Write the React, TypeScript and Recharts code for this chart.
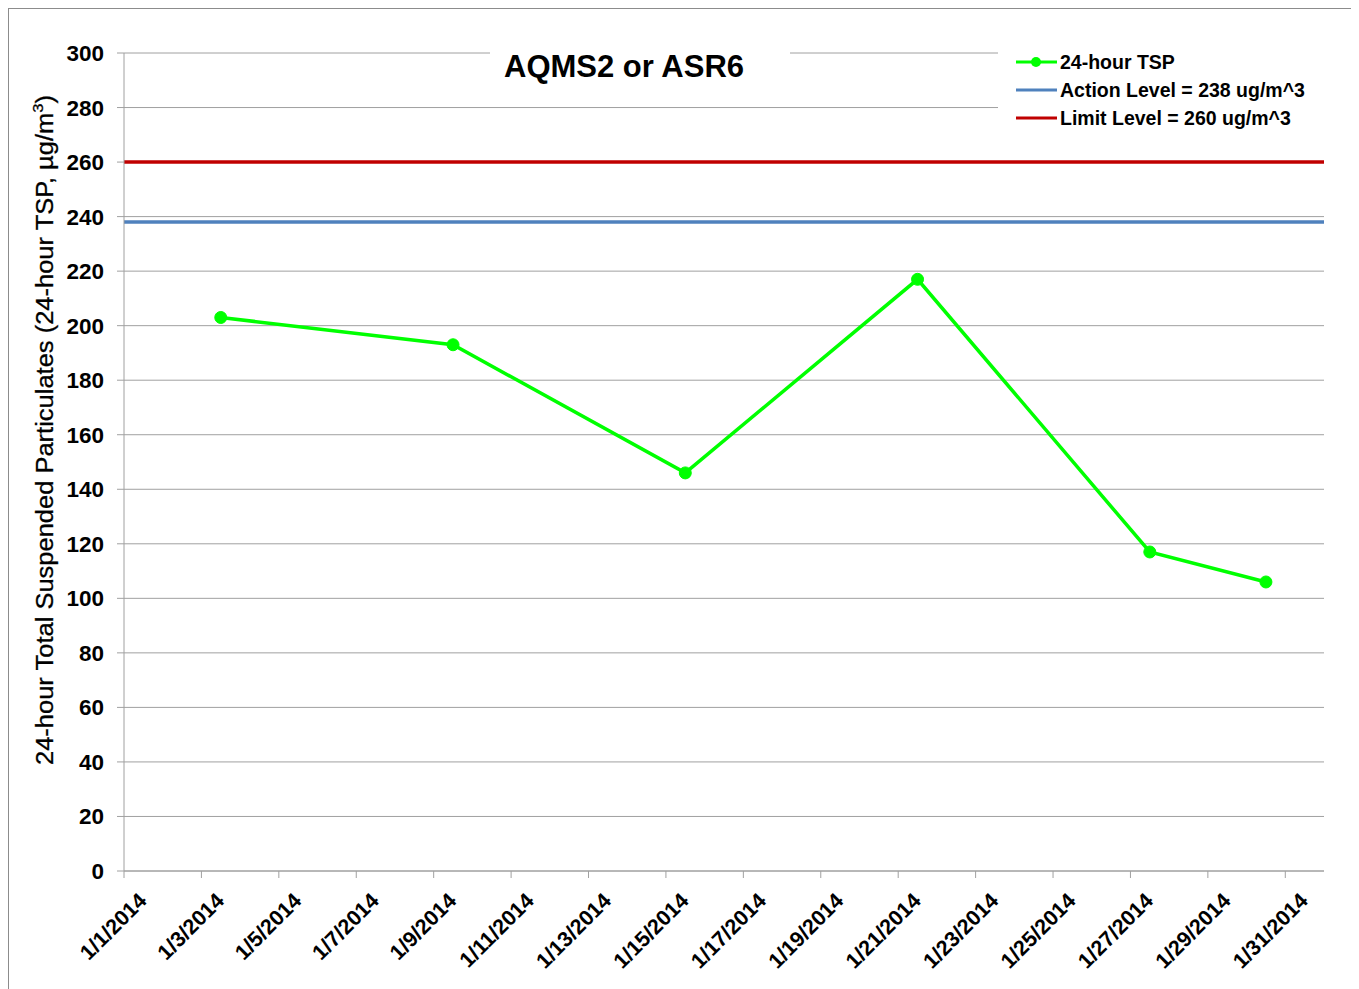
import React from 'react'
import { LineChart, Line, XAxis, YAxis, CartesianGrid, Legend } from 'recharts'

// sample dates (plotted at mid-day, as Excel does on a date axis)
const sampleDates = ['2014-01-03', '2014-01-09', '2014-01-15', '2014-01-21', '2014-01-27', '2014-01-30']
const tspValues = [203, 193, 146, 217, 117, 106]

const tickDates = [
  '2014-01-01', '2014-01-03', '2014-01-05', '2014-01-07', '2014-01-09', '2014-01-11',
  '2014-01-13', '2014-01-15', '2014-01-17', '2014-01-19', '2014-01-21', '2014-01-23',
  '2014-01-25', '2014-01-27', '2014-01-29', '2014-01-31',
]
const axisStart = '2014-01-01'
const axisEnd = '2014-02-01'
const yTicks = [0, 20, 40, 60, 80, 100, 120, 140, 160, 180, 200, 220, 240, 260, 280, 300]

const actionLevel = 238
const limitLevel = 260

const FONT = '"Liberation Sans", Arial, sans-serif'
const GRID = '#a0a0a0'

const toTs = (d: string, hour = 0) => Date.parse(`${d}T${String(hour).padStart(2, '0')}:00:00Z`)

const tspData = sampleDates.map((d, i) => ({ t: toTs(d, 12), v: tspValues[i] }))
const start = toTs(axisStart)
const end = toTs(axisEnd)
const actionData = [{ t: start, v: actionLevel }, { t: end, v: actionLevel }]
const limitData = [{ t: start, v: limitLevel }, { t: end, v: limitLevel }]
const xTicks = tickDates.map((d) => toTs(d))

function fmtDate(ts: number) {
  const d = new Date(ts)
  return `${d.getUTCMonth() + 1}/${d.getUTCDate()}/${d.getUTCFullYear()}`
}

function DateTick({ x, y, payload }: any) {
  return (
    <text
      transform={`translate(${x + 24},${y + 22}) rotate(-45)`}
      textAnchor="end"
      fontSize={21.5}
      fontWeight={700}
      fill="#000"
      fontFamily={FONT}
    >
      {fmtDate(payload.value)}
    </text>
  )
}

function LegendBox({ payload }: any) {
  return (
    <div style={{ background: '#fff', padding: '2px 0 12px 0' }}>
      {(payload || []).map((item: any) => (
        <div key={item.value} style={{ display: 'flex', alignItems: 'center', height: 28 }}>
          <svg width={44} height={14} style={{ marginLeft: 18 }}>
            <line x1={0} y1={7} x2={41} y2={7} stroke={item.color} strokeWidth={3} />
            {item.value === '24-hour TSP' && <circle cx={20} cy={7} r={5} fill={item.color} />}
          </svg>
          <span style={{ fontSize: 19.5, fontWeight: 700, color: '#000', fontFamily: FONT }}>{item.value}</span>
        </div>
      ))}
    </div>
  )
}

export default function App() {
  return (
    <div
      style={{
        position: 'relative',
        width: 1349,
        height: 990,
        border: '1px solid #8c8c8c',
        background: '#fff',
        fontFamily: FONT,
      }}
    >
      <LineChart width={1349} height={990} margin={{ top: 44, right: 34, left: 0, bottom: 10 }}>
        <CartesianGrid horizontal vertical={false} stroke={GRID} strokeWidth={1} />
        <XAxis
          dataKey="t"
          type="number"
          scale="linear"
          domain={[start, end]}
          ticks={xTicks}
          allowDataOverflow
          stroke={GRID}
          tickSize={7}
          height={118}
          tick={<DateTick />}
          interval={0}
        />
        <YAxis
          domain={[0, 300]}
          ticks={yTicks}
          width={115}
          stroke={GRID}
          tickSize={7}
          tickMargin={13}
          interval={0}
          tick={{ fill: '#000', fontSize: 22.5, fontWeight: 700, fontFamily: FONT }}
          label={{
            content: () => (
              <text
                transform="translate(44,421) rotate(-90)"
                textAnchor="middle"
                fontSize={23}
                fontWeight={400}
                fill="#000"
                stroke="#000"
                strokeWidth={0.3}
                fontFamily={FONT}
                textLength={670}
                lengthAdjust="spacingAndGlyphs"
              >
                24-hour Total Suspended Particulates (24-hour TSP, µg/m
                <tspan fontSize={15} dy={-10}>3</tspan>
                <tspan dy={10}>)</tspan>
              </text>
            ),
          }}
        />
        <Legend
          layout="vertical"
          align="center"
          verticalAlign="middle"
          content={<LegendBox />}
          wrapperStyle={{ top: 37, left: 989, width: 340 }}
        />
        <Line
          data={limitData}
          dataKey="v"
          name="Limit Level = 260 ug/m^3"
          stroke="#c00000"
          strokeWidth={3.5}
          dot={false}
          isAnimationActive={false}
        />
        <Line
          data={actionData}
          dataKey="v"
          name="Action Level = 238 ug/m^3"
          stroke="#4f81bd"
          strokeWidth={3.5}
          dot={false}
          isAnimationActive={false}
        />
        <Line
          data={tspData}
          dataKey="v"
          name="24-hour TSP"
          stroke="#00ff00"
          strokeWidth={3.5}
          dot={{ r: 6, fill: '#00ff00', stroke: '#00ff00', strokeWidth: 1 }}
          isAnimationActive={false}
        />
      </LineChart>
      {/* title box sits over the top gridline */}
      <div
        style={{
          position: 'absolute',
          left: 481,
          top: 36,
          width: 300,
          height: 44,
          lineHeight: '44px',
          background: '#fff',
          boxSizing: 'border-box',
          paddingLeft: 14,
          fontSize: 31,
          fontWeight: 700,
          color: '#000',
          whiteSpace: 'nowrap',
        }}
      >
        AQMS2 or ASR6
      </div>
    </div>
  )
}
